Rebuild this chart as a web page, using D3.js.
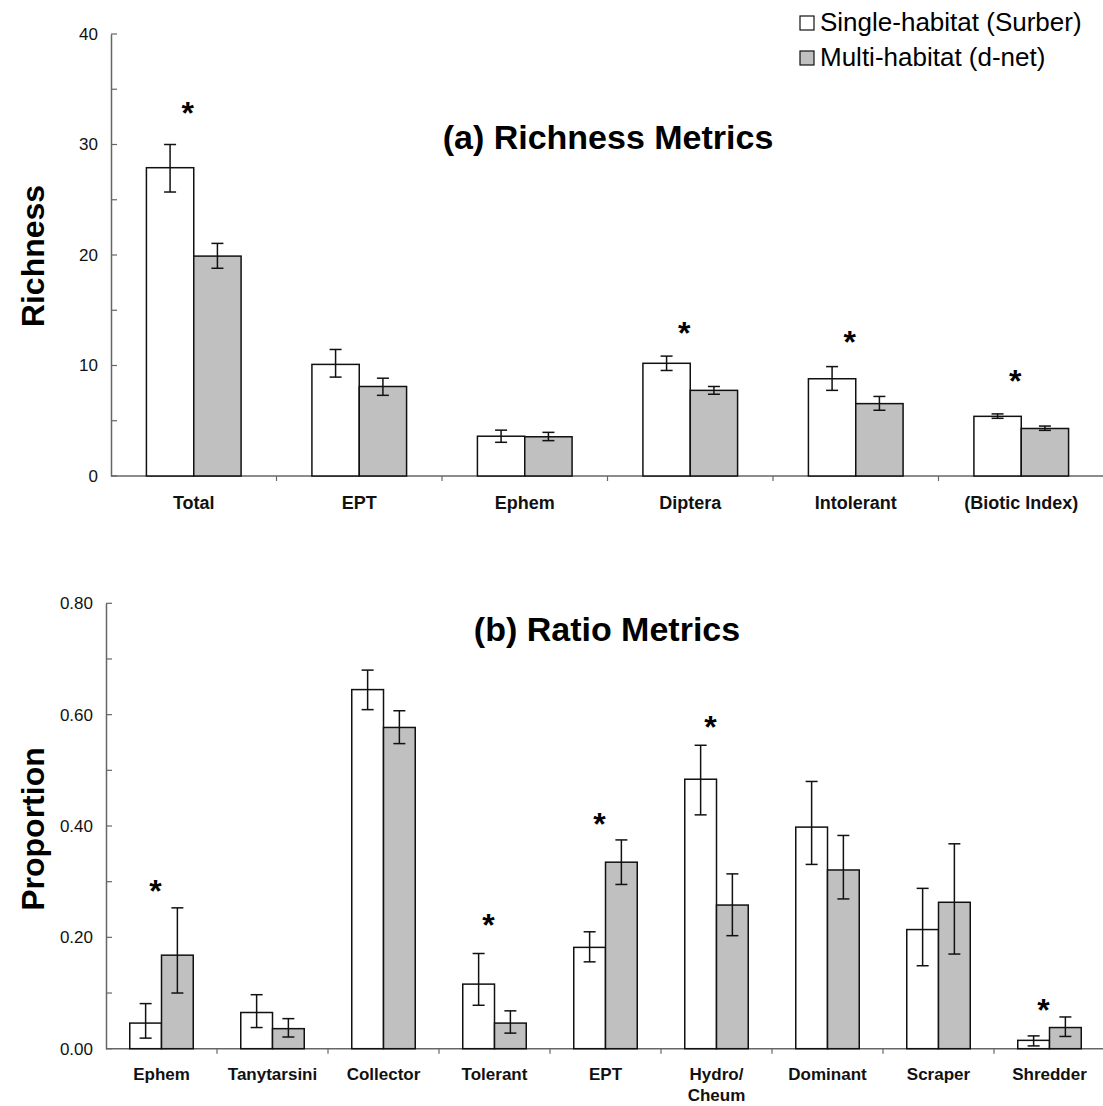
<!DOCTYPE html>
<html><head><meta charset="utf-8">
<script src="https://cdn.jsdelivr.net/npm/d3@7"></script>
<style>html,body{margin:0;padding:0;background:#fff;}svg{display:block;font-family:"Liberation Sans",Arial,sans-serif;}</style>
</head><body>
<script>
// ---------- data: (a) Richness ----------
const richCats = ["Total","EPT","Ephem","Diptera","Intolerant","(Biotic Index)"];
const richSingle   = [27.9, 10.1, 3.6, 10.2, 8.8, 5.4];
const richSingleLo = [25.7, 8.95, 3.05, 9.55, 7.75, 5.22];
const richSingleHi = [30.0, 11.45, 4.15, 10.85, 9.9, 5.62];
const richMulti    = [19.9, 8.1, 3.55, 7.75, 6.55, 4.3];
const richMultiLo  = [18.8, 7.3, 3.2, 7.4, 5.95, 4.13];
const richMultiHi  = [21.05, 8.85, 3.95, 8.1, 7.2, 4.52];
const richStars    = [33.4, null, null, 13.5, 12.7, 9.1];
const richTicks    = [0, 10, 20, 30, 40];
const richMinor    = [5, 15, 25, 35];

// ---------- data: (b) Ratio ----------
const ratioCats = ["Ephem","Tanytarsini","Collector","Tolerant","EPT","Hydro/\nCheum","Dominant","Scraper","Shredder"];
const ratioSingle   = [0.046, 0.065, 0.645, 0.116, 0.182, 0.484, 0.398, 0.214, 0.015];
const ratioSingleLo = [0.019, 0.038, 0.609, 0.078, 0.156, 0.420, 0.331, 0.149, 0.005];
const ratioSingleHi = [0.081, 0.097, 0.680, 0.171, 0.210, 0.545, 0.480, 0.288, 0.023];
const ratioMulti    = [0.168, 0.036, 0.577, 0.046, 0.335, 0.258, 0.321, 0.263, 0.038];
const ratioMultiLo  = [0.100, 0.021, 0.548, 0.028, 0.295, 0.203, 0.269, 0.170, 0.022];
const ratioMultiHi  = [0.253, 0.054, 0.607, 0.068, 0.375, 0.314, 0.383, 0.368, 0.057];
const ratioStars    = [0.294, null, null, 0.233, 0.414, 0.589, null, null, 0.080];
const ratioTicks    = [0, 0.2, 0.4, 0.6, 0.8];
const ratioMinor    = [0.1, 0.3, 0.5, 0.7];

const seriesNames = ["Single-habitat (Surber)", "Multi-habitat (d-net)"];
const seriesFill  = ["#ffffff", "#c0c0c0"];

const W = 1103, H = 1106;
const svg = d3.select("body").append("svg").attr("width", W).attr("height", H);

function panel(o) {
  const g = svg.append("g");
  const x = d3.scaleBand().domain(o.cats).range([o.x0, o.x1]).paddingInner(0).paddingOuter(0);
  const y = d3.scaleLinear().domain(o.domain).range([o.y0, o.y1]);
  const bw = x.bandwidth() * 0.286;
  const axisColor = "#666";

  // x axis line + category ticks
  g.append("line").attr("x1", o.x0).attr("x2", o.x1).attr("y1", y(0)).attr("y2", y(0))
    .attr("stroke", axisColor).attr("stroke-width", 1.5);
  o.cats.forEach((c, i) => {
    if (i === 0) return;
    const tx = x(c);
    g.append("line").attr("x1", tx).attr("x2", tx).attr("y1", y(0)).attr("y2", y(0) + 5)
      .attr("stroke", axisColor).attr("stroke-width", 1.2);
  });

  // y axis
  const yAxis = d3.axisLeft(y).tickValues(o.ticks).tickFormat(o.fmt).tickSize(0).tickPadding(13);
  const ya = g.append("g").attr("transform", `translate(${o.x0},0)`).call(yAxis);
  ya.select(".domain").attr("stroke", axisColor).attr("stroke-width", 1.5);
  ya.selectAll("text").attr("font-size", 17).attr("fill", "#111")
    .attr("font-family", "'Liberation Sans',Arial,sans-serif");
  o.ticks.concat(o.minor).forEach(v => {
    g.append("line").attr("x1", o.x0).attr("x2", o.x0 + 6).attr("y1", y(v)).attr("y2", y(v))
      .attr("stroke", axisColor).attr("stroke-width", 1.2);
  });

  // bars
  const series = [
    {vals: o.s1, lo: o.s1lo, hi: o.s1hi, off: -bw, fill: seriesFill[0]},
    {vals: o.s2, lo: o.s2lo, hi: o.s2hi, off: 0, fill: seriesFill[1]}
  ];
  series.forEach(s => {
    o.cats.forEach((c, i) => {
      const cx = x(c) + x.bandwidth() / 2;
      g.append("rect").attr("x", cx + s.off).attr("width", bw)
        .attr("y", y(s.vals[i])).attr("height", y(0) - y(s.vals[i]))
        .attr("fill", s.fill).attr("stroke", "#111").attr("stroke-width", 1.5);
    });
  });
  // error bars
  series.forEach(s => {
    o.cats.forEach((c, i) => {
      const ex = x(c) + x.bandwidth() / 2 + s.off + bw / 2;
      const eg = g.append("g").attr("stroke", "#111").attr("stroke-width", 1.5);
      eg.append("line").attr("x1", ex).attr("x2", ex).attr("y1", y(s.hi[i])).attr("y2", y(s.lo[i]));
      eg.append("line").attr("x1", ex - 6).attr("x2", ex + 6).attr("y1", y(s.hi[i])).attr("y2", y(s.hi[i]));
      eg.append("line").attr("x1", ex - 6).attr("x2", ex + 6).attr("y1", y(s.lo[i])).attr("y2", y(s.lo[i]));
    });
  });
  // stars
  o.cats.forEach((c, i) => {
    if (o.stars[i] == null) return;
    g.append("text").attr("x", x(c) + x.bandwidth() / 2 - 6).attr("y", y(o.stars[i]) + 17)
      .attr("text-anchor", "middle").attr("font-size", 32).attr("font-weight", "bold")
      .attr("fill", "#000").text("*");
  });
  // category labels
  o.cats.forEach(c => {
    const lines = c.split("\n");
    const t = g.append("text").attr("text-anchor", "middle").attr("font-size", o.labelSize)
      .attr("font-weight", "bold").attr("fill", "#111");
    lines.forEach((ln, k) => {
      t.append("tspan").attr("x", x(c) + x.bandwidth() / 2).attr("y", y(0) + o.labelDy + k * 21).text(ln);
    });
  });
  // title
  g.append("text").attr("x", o.titleX).attr("y", o.titleY).attr("text-anchor", "middle")
    .attr("font-size", 34).attr("font-weight", "bold").attr("fill", "#000").text(o.title);
  // y label
  g.append("text").attr("transform", `translate(44,${o.ylabY}) rotate(-90)`)
    .attr("text-anchor", "middle").attr("font-size", 32).attr("font-weight", "bold")
    .attr("fill", "#000").text(o.ylab);
}

panel({
  cats: richCats, x0: 111, x1: 1104, y0: 476, y1: 34, domain: [0, 40],
  ticks: richTicks, minor: richMinor, fmt: d3.format("d"),
  s1: richSingle, s1lo: richSingleLo, s1hi: richSingleHi,
  s2: richMulti, s2lo: richMultiLo, s2hi: richMultiHi,
  stars: richStars, labelDy: 33, labelSize: 18, title: "(a) Richness Metrics", titleX: 608, titleY: 149,
  ylab: "Richness", ylabY: 256
});
panel({
  cats: ratioCats, x0: 106, x1: 1105, y0: 1048.7, y1: 603.3, domain: [0, 0.8],
  ticks: ratioTicks, minor: ratioMinor, fmt: d3.format(".2f"),
  s1: ratioSingle, s1lo: ratioSingleLo, s1hi: ratioSingleHi,
  s2: ratioMulti, s2lo: ratioMultiLo, s2hi: ratioMultiHi,
  stars: ratioStars, labelDy: 31, labelSize: 17, title: "(b) Ratio Metrics", titleX: 607, titleY: 641,
  ylab: "Proportion", ylabY: 829
});

// legend
const leg = svg.append("g");
seriesNames.forEach((n, i) => {
  const ly = 31 + i * 35;
  leg.append("rect").attr("x", 800).attr("y", ly - 15).attr("width", 14).attr("height", 14)
    .attr("fill", seriesFill[i]).attr("stroke", "#111").attr("stroke-width", 1.2);
  leg.append("text").attr("x", 820).attr("y", ly).attr("font-size", 26).attr("fill", "#000").text(n);
});
</script>
</body></html>
